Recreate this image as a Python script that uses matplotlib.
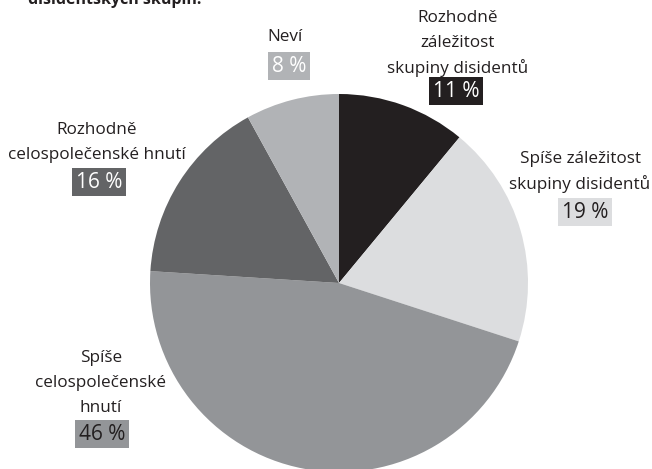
import matplotlib
matplotlib.use("Agg")
import matplotlib.pyplot as plt

categories = ["Rozhodně\nzáležitost\nskupiny disidentů",
              "Spíše záležitost\nskupiny disidentů",
              "Spíše\ncelospolečenské\nhnutí",
              "Rozhodně\ncelospolečenské hnutí",
              "Neví"]
values = [11, 19, 46, 16, 8]
pct_labels = ["11 %", "19 %", "46 %", "16 %", "8 %"]
colors = ["#231f20", "#dcdddf", "#939598", "#636466", "#b1b3b6"]
pct_text_colors = ["white", "#231f20", "#231f20", "white", "white"]

W, H = 652, 469
fig = plt.figure(figsize=(W / 100, H / 100), dpi=100)
ax = fig.add_axes([0, 0, 1, 1])

cx, cy, r = 339, 283, 189
ax.pie(values, colors=colors, startangle=90, counterclock=False,
       center=(cx, H - cy), radius=r, frame=True,
       wedgeprops=dict(linewidth=0))
ax.set_xlim(0, W)
ax.set_ylim(0, H)
ax.set_aspect("equal")
ax.axis("off")

font = "Open Sans"
# (label center x, first line y, pct box center x, pct y) in pixels from top-left
label_pos = [(458, 18, 456, 91), (580, 159, 585, 212), (101, 358, 102, 434),
             (97, 130, 99, 182), (285, 37, 289, 66)]
line_h = 25
for cat, pct, col, tcol, (lx, ly, px, py) in zip(categories, pct_labels, colors,
                                                  pct_text_colors, label_pos):
    lines = cat.split("\n")
    for i, ln in enumerate(lines):
        ax.text(lx, H - (ly + i * line_h), ln, ha="center", va="center",
                fontsize=12.3, color="#231f20", family=font)
    ax.text(px, H - py, pct, ha="center", va="center", fontsize=15,
            color=tcol, family=font,
            bbox=dict(boxstyle="square,pad=0.18", fc=col, ec="none"))

fig.text(28 / W, 1 - 4 / H, "disidentských skupin.", ha="left", va="baseline",
         fontsize=11.5, fontweight="bold", color="#231f20", family=font)

fig.savefig("out.png", dpi=100)
